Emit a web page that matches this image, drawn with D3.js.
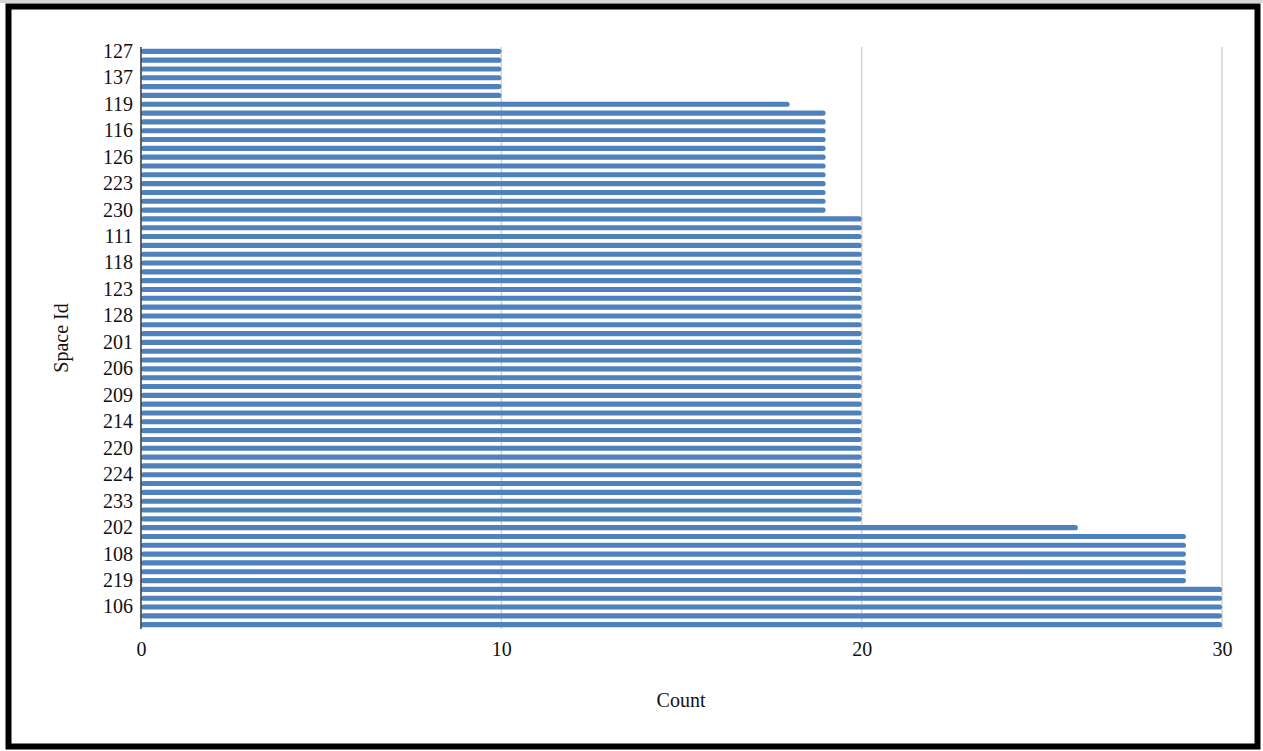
<!DOCTYPE html>
<html>
<head>
<meta charset="utf-8">
<script src="https://cdn.jsdelivr.net/npm/d3@7"></script>
<style>
  html, body { margin: 0; padding: 0; background: #fff; }
  svg { display: block; }
  text { font-family: "Liberation Serif", "Times New Roman", serif; fill: #111; }
</style>
</head>
<body>
<svg id="chart" width="1263" height="751"></svg>
<script>
// Space ids, top to bottom
const spaceIds = [
  "127","130","135","137","140","141",
  "119",
  "112","114","116","117","120","126","215","217","223","225","227","230",
  "103","105","111","113","115","118","121","122","123","124","125","128",
  "131","134","201","203","204","206","207","208","209","211","212","214",
  "216","218","220","221","222","224","229","231","233","234","235",
  "202",
  "104","107","108","205","210","219",
  "101","102","106","213","232"
];
// Count per space id
const counts = [
  10,10,10,10,10,10,
  18,
  19,19,19,19,19,19,19,19,19,19,19,19,
  20,20,20,20,20,20,20,20,20,20,20,20,
  20,20,20,20,20,20,20,20,20,20,20,20,
  20,20,20,20,20,20,20,20,20,20,20,
  26,
  29,29,29,29,29,29,
  30,30,30,30,30
];
// Labelled ids on the vertical axis
const yTickLabels = ["127","137","119","116","126","223","230","111","118","123","128",
  "201","206","209","214","220","224","233","202","108","219","106"];
const xTicks = [0, 10, 20, 30];

const rows = spaceIds.map((id, i) => ({ id, count: counts[i] }));

const svg = d3.select("#chart");

// outer frame
svg.append("rect").attr("x", 0).attr("y", 0).attr("width", 1263).attr("height", 3).attr("fill", "#d6d6d6");
svg.append("rect")
  .attr("x", 8.5).attr("y", 6.5).attr("width", 1249).attr("height", 740)
  .attr("fill", "none").attr("stroke", "#000").attr("stroke-width", 6);

const plotLeft = 141, plotRight = 1222, plotTop = 47, plotBottom = 629;

const x = d3.scaleLinear().domain([0, 30]).range([plotLeft, plotRight]);
const y = d3.scaleBand().domain(spaceIds).range([plotTop, plotBottom]).paddingInner(0.42).paddingOuter(0.2);

// vertical gridlines
svg.append("g").selectAll("line").data(xTicks.filter(t => t > 0)).join("line")
  .attr("x1", d => x(d)).attr("x2", d => x(d))
  .attr("y1", plotTop).attr("y2", plotBottom)
  .attr("stroke", "#d3d3d3").attr("stroke-width", 1.5);

// bars
svg.append("g").selectAll("rect").data(rows).join("rect")
  .attr("x", x(0))
  .attr("y", d => y(d.id))
  .attr("width", d => x(d.count) - x(0))
  .attr("height", y.bandwidth())
  .attr("rx", y.bandwidth() / 2)
  .attr("fill", "#4f81bd");

// y axis
const yAxis = svg.append("g")
  .attr("transform", `translate(${plotLeft},0)`)
  .call(d3.axisLeft(y).tickValues(yTickLabels).tickSize(0).tickPadding(8));
yAxis.select(".domain").attr("stroke", "#333").attr("stroke-width", 1.5)
  .attr("d", `M0,${plotTop}V${plotBottom}`);
yAxis.selectAll("text").style("font-size", "20px").style("font-family", "Liberation Serif");

// x axis
const xAxis = svg.append("g")
  .attr("transform", `translate(0,${plotBottom})`)
  .call(d3.axisBottom(x).tickValues(xTicks).tickFormat(d3.format("d")).tickSize(0).tickPadding(13));
xAxis.select(".domain").remove();
xAxis.selectAll("text").style("font-size", "20px").style("font-family", "Liberation Serif");

// axis titles
svg.append("text").attr("x", 681).attr("y", 707).attr("text-anchor", "middle")
  .style("font-size", "20px").text("Count");
svg.append("text").attr("transform", "translate(68,338) rotate(-90)").attr("text-anchor", "middle")
  .style("font-size", "20px").text("Space Id");
</script>
</body>
</html>
